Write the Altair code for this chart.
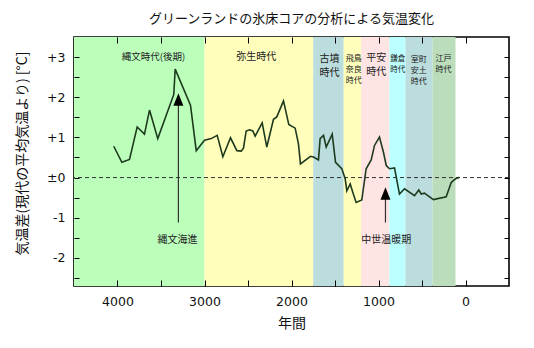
import altair as alt
import pandas as pd

# ---- data ----
years = [4043, 3950, 3862, 3774, 3690, 3632, 3537, 3353, 3337, 3161, 3095, 3000,
         2923, 2854, 2789, 2701, 2628, 2578, 2552, 2521, 2483, 2445, 2418, 2337,
         2284, 2207, 2169, 2092, 2031, 1958, 1920, 1897, 1782, 1747, 1690, 1671,
         1632, 1601, 1532, 1494, 1422, 1383, 1364, 1325, 1295, 1257, 1192, 1142,
         1084, 1046, 989, 943, 911, 874, 816, 759, 701, 586, 537, 509, 471, 433,
         368, 222, 164, 115, 69]
temps = [0.78, 0.38, 0.45, 1.26, 1.08, 1.68, 0.97, 2.07, 2.70, 1.80, 0.67, 0.93,
         0.97, 1.05, 0.52, 0.99, 0.67, 0.66, 0.73, 1.16, 1.19, 1.16, 1.03, 1.36,
         0.76, 1.45, 1.51, 1.91, 1.32, 1.23, 0.84, 0.34, 0.53, 0.51, 0.44, 0.97,
         1.05, 0.76, 1.08, 0.38, 0.22, -0.03, -0.33, -0.16, -0.37, -0.62, -0.56, 0.22,
         0.44, 0.80, 1.01, 0.63, 0.30, 0.22, 0.24, -0.41, -0.28, -0.45, -0.31, -0.41, -0.39, -0.45,
         -0.55, -0.48, -0.12, -0.03, 0.01]

period_start = [4500, 3000, 1750, 1400, 1200, 875, 690, 380]
period_end = [3000, 1750, 1400, 1200, 875, 690, 380, 115]
period_color = ["#bbffbb", "#ffffbb", "#bbdddd", "#ffffbb", "#ffe4e4", "#bbffff", "#bbdddd", "#bbddbb"]

# period labels: large ones and small (three-line style) ones
big_text = ["縄文時代(後期)", "弥生時代", "古墳\n時代", "平安\n時代"]
big_year = [3586, 2406, 1563, 1026]
big_temp = [2.99, 2.99, 2.945, 2.965]
big_size = [9.5, 10, 10, 10]

small_text = ["飛鳥\n奈良\n時代", "鎌倉\n時代", "室町\n安土\n時代", "江戸\n時代"]
small_year = [1284, 778, 537, 253]
small_temp = [2.94, 2.95, 2.92, 2.94]
small_size = [8, 7.5, 8, 8]

arrow_text = ["縄文海進", "中世温暖期"]
arrow_year = [3300, 920]
arrow_tip = [2.1, -0.24]
arrow_tail = [-1.12, -1.12]
arrow_label_year = [3310, 910]
arrow_label_temp = [-1.55, -1.55]

# ---- tables ----
line_df = pd.DataFrame({"year": years, "temp": temps})
band_df = pd.DataFrame({"start": period_start, "end": period_end, "color": period_color})
big_df = pd.DataFrame({"text": big_text, "year": big_year, "temp": big_temp, "size": big_size})
small_df = pd.DataFrame({"text": small_text, "year": small_year, "temp": small_temp, "size": small_size})
head_h = 0.31
arr_df = pd.DataFrame({
    "year": arrow_year,
    "tail": arrow_tail,
    "shaft_top": [t - head_h * 0.6 for t in arrow_tip],
    "head": [t - head_h / 2 for t in arrow_tip],
    "text": arrow_text,
    "ly": arrow_label_temp,
    "lx": arrow_label_year,
})
zero_df = pd.DataFrame({"temp": [0]})

W, H = 435, 249
JP = "Noto Sans CJK JP"
NUM = "DejaVu Sans"

xs = alt.Scale(domain=[-500, 4500], reverse=True, nice=False, zero=False)
ys = alt.Scale(domain=[-2.7, 3.5], nice=False, zero=False)

x_ticks = [4000, 3500, 3000, 2500, 2000, 1500, 1000, 500, 0]
y_ticks = [-2.5, -2, -1.5, -1, -0.5, 0, 0.5, 1, 1.5, 2, 2.5, 3]

ax_x_labels = alt.Axis(orient="bottom", values=[4000, 3000, 2000, 1000, 0], format="d",
                       ticks=False, domain=False, grid=False, labelPadding=9,
                       labelFont=NUM, labelFontSize=12.5, labelColor="#111",
                       title="年間", titleFont=JP, titleFontSize=14, titleFontWeight="normal",
                       titleY=37, titleBaseline="middle", titleColor="#111")
ax_x_bottom_ticks = alt.Axis(orient="bottom", values=x_ticks, offset=-6, tickSize=6, labels=False,
                             domain=False, grid=False, title=None, tickColor="black", zindex=2)
ax_x_top_ticks = alt.Axis(orient="top", values=x_ticks, offset=-6, tickSize=6, labels=False,
                          domain=False, grid=False, title=None, tickColor="black", zindex=2)
ax_y_labels = alt.Axis(orient="left", values=[-2, -1, 0, 1, 2, 3], ticks=False, domain=False, grid=False,
                       labelPadding=9, labelFont=NUM, labelFontSize=12.5, labelColor="#111",
                       labelExpr="datum.value > 0 ? '+' + datum.value : (datum.value == 0 ? '±0' : '-' + abs(datum.value))",
                       title="気温差(現代の平均気温より) [°C]", titleFont=JP, titleFontSize=14,
                       titleFontWeight="normal", titleX=-52, titleY=116, titleBaseline="middle",
                       titleAlign="center", titleColor="#111")
ax_y_left_ticks = alt.Axis(orient="left", values=y_ticks, offset=-5, tickSize=5, labels=False,
                           domain=False, grid=False, title=None, tickColor="black", zindex=2)
ax_y_right_ticks = alt.Axis(orient="right", values=y_ticks, offset=-5, tickSize=5, labels=False,
                            domain=False, grid=False, title=None, tickColor="black", zindex=2)

bands = alt.Chart(band_df).mark_rect().encode(
    x=alt.X("start:Q", scale=xs, axis=ax_x_labels),
    x2="end:Q",
    color=alt.Color("color:N", scale=None),
)

zero = alt.Chart(zero_df).mark_rule(color="#333", strokeDash=[4, 3], strokeWidth=1).encode(
    y=alt.Y("temp:Q", scale=ys, axis=None)
)

line = alt.Chart(line_df).mark_line(color="#1e3a1e", strokeWidth=1.6).encode(
    x=alt.X("year:Q", scale=xs, axis=ax_x_bottom_ticks),
    y=alt.Y("temp:Q", scale=ys, axis=ax_y_labels),
)

big_labels = alt.Chart(big_df).mark_text(font=JP, color="#222", baseline="middle", align="center",
                                         lineBreak="\n", lineHeight=14).encode(
    x=alt.X("year:Q", scale=xs, axis=ax_x_top_ticks),
    y=alt.Y("temp:Q", scale=ys, axis=ax_y_left_ticks),
    text="text:N",
    size=alt.Size("size:Q", scale=None),
)

small_labels = alt.Chart(small_df).mark_text(font=JP, color="#222", baseline="middle", align="center",
                                             lineBreak="\n", lineHeight=11).encode(
    x=alt.X("year:Q", scale=xs, axis=None),
    y=alt.Y("temp:Q", scale=ys, axis=None),
    text="text:N",
    size=alt.Size("size:Q", scale=None),
)

shafts = alt.Chart(arr_df).mark_rule(color="#333", strokeWidth=1.2).encode(
    x=alt.X("year:Q", scale=xs, axis=None),
    y=alt.Y("tail:Q", scale=ys, axis=ax_y_right_ticks),
    y2="shaft_top:Q",
)

heads = alt.Chart(arr_df).mark_point(shape="M0,-1L-0.8,1L0.8,1Z", filled=True, color="black",
                                     opacity=1, size=156).encode(
    x=alt.X("year:Q", scale=xs, axis=None),
    y=alt.Y("head:Q", scale=ys, axis=None),
)

arr_labels = alt.Chart(arr_df).mark_text(font=JP, fontSize=10, color="#222", baseline="middle").encode(
    x=alt.X("lx:Q", scale=xs, axis=None),
    y=alt.Y("ly:Q", scale=ys, axis=None),
    text="text:N",
)

chart = alt.layer(bands, zero, line, big_labels, small_labels, shafts, heads, arr_labels).resolve_axis(
    x="independent", y="independent"
).properties(
    width=W, height=H,
    title=alt.TitleParams("グリーンランドの氷床コアの分析による気温変化", font=JP, fontSize=13,
                          fontWeight="normal", color="#111", offset=11, anchor="middle"),
    autosize=alt.AutoSizeParams(type="none"),
    padding={"left": 74, "top": 37, "right": 25, "bottom": 62},
).configure_view(stroke="black", strokeWidth=1.6)

chart.save("out.html", embed_options={"renderer": "svg", "actions": False})
